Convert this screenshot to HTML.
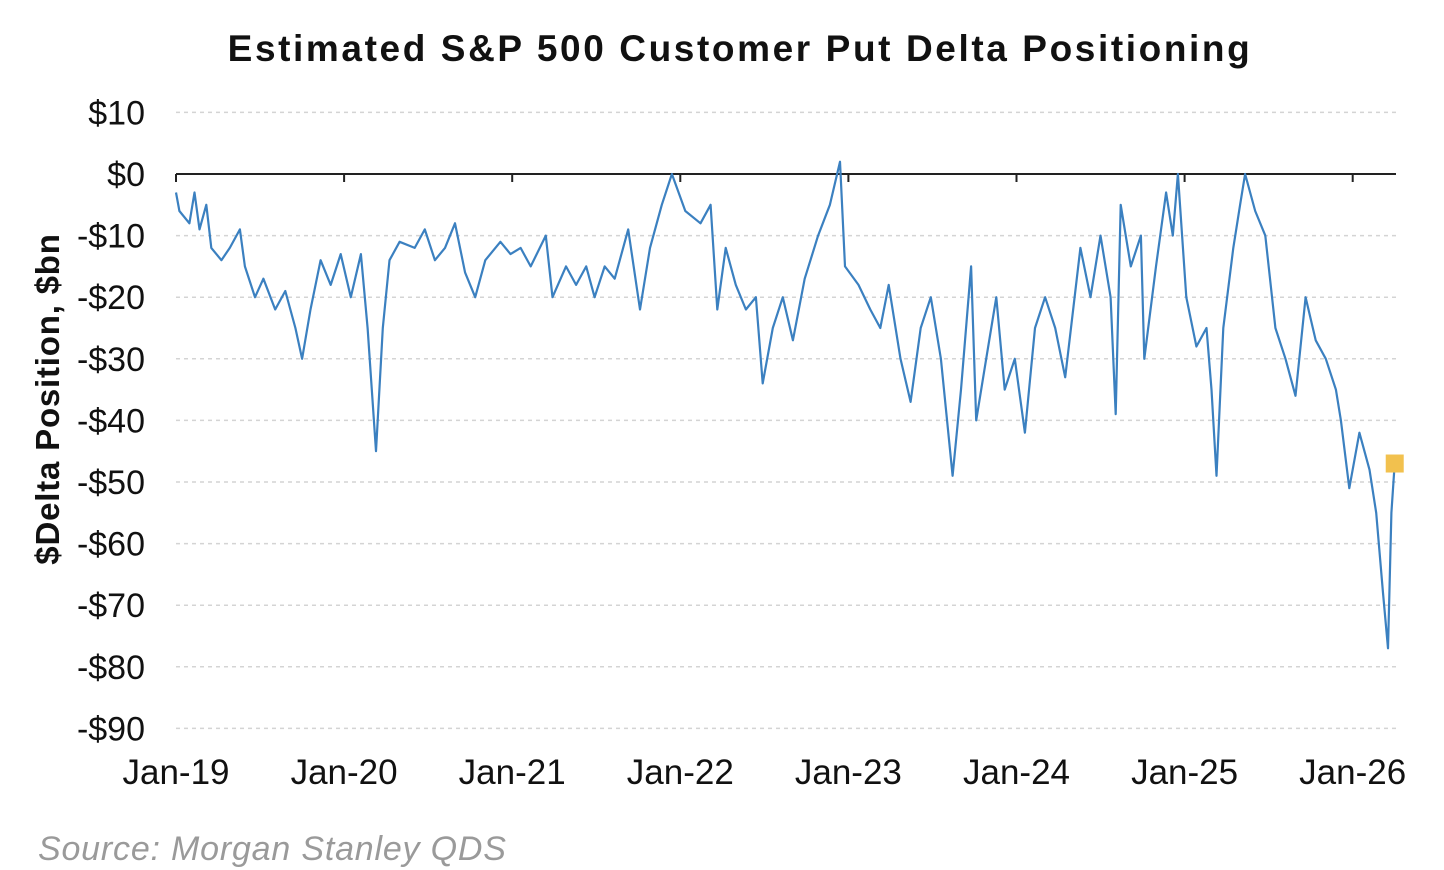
<!DOCTYPE html>
<html>
<head>
<meta charset="utf-8">
<style>
  html,body{margin:0;padding:0;background:#fff;}
  body{width:1444px;height:870px;overflow:hidden;font-family:"Liberation Sans",Arial,sans-serif;}
  svg{display:block;}
</style>
</head>
<body>
<svg id="chart" width="1444" height="870" viewBox="0 0 1444 870" xmlns="http://www.w3.org/2000/svg">
  <text x="740" y="61" text-anchor="middle" font-family="Liberation Sans, Arial, sans-serif" font-weight="bold" font-size="37" fill="#111" letter-spacing="2.6">Estimated S&amp;P 500 Customer Put Delta Positioning</text>
  <g id="grid"></g>
  <g id="yticks"></g>
  <g id="xticks"></g>
  <g id="series"></g>
  <text transform="translate(59,399) rotate(-90)" text-anchor="middle" font-family="Liberation Sans, Arial, sans-serif" font-weight="bold" font-size="33" fill="#111" letter-spacing="0.8">$Delta Position, $bn</text>
  <text x="38" y="860" font-family="Liberation Sans, Arial, sans-serif" font-style="italic" font-size="34" fill="#9a9a9a" letter-spacing="0.8">Source: Morgan Stanley QDS</text>
</svg>
<script>
const yTickValues = [10,0,-10,-20,-30,-40,-50,-60,-70,-80,-90];
const yTickLabels = ["$10","$0","-$10","-$20","-$30","-$40","-$50","-$60","-$70","-$80","-$90"];
const xTickYears = [2019,2020,2021,2022,2023,2024,2025,2026];
const xTickLabels = ["Jan-19","Jan-20","Jan-21","Jan-22","Jan-23","Jan-24","Jan-25","Jan-26"];
const dates = [2019.00,2019.02,2019.08,2019.11,2019.14,2019.18,2019.21,2019.27,2019.32,2019.38,2019.41,2019.47,2019.52,2019.59,2019.65,2019.71,2019.75,2019.80,2019.86,2019.92,2019.98,
2020.04,2020.10,2020.14,2020.19,2020.23,2020.27,2020.33,2020.42,2020.48,2020.54,2020.60,2020.66,2020.72,2020.78,2020.84,2020.93,2020.99,
2021.05,2021.11,2021.20,2021.24,2021.32,2021.38,2021.44,2021.49,2021.55,2021.61,2021.69,2021.76,2021.82,2021.89,2021.95,
2022.03,2022.12,2022.18,2022.22,2022.27,2022.33,2022.39,2022.45,2022.49,2022.55,2022.61,2022.67,2022.74,2022.82,2022.89,2022.95,2022.98,
2023.06,2023.13,2023.19,2023.24,2023.31,2023.37,2023.43,2023.49,2023.55,2023.62,2023.67,2023.73,2023.76,2023.82,2023.88,2023.93,2023.99,
2024.05,2024.11,2024.17,2024.23,2024.29,2024.38,2024.44,2024.50,2024.56,2024.59,2024.62,2024.68,2024.74,2024.76,2024.83,2024.89,2024.93,2024.96,
2025.01,2025.07,2025.13,2025.16,2025.19,2025.23,2025.29,2025.33,2025.36,2025.42,2025.48,2025.54,2025.60,2025.66,2025.72,2025.78,2025.84,2025.90,2025.93,2025.98,
2026.04,2026.10,2026.14,2026.18,2026.21,2026.23,2026.25];
const deltaValues = [-3,-6,-8,-3,-9,-5,-12,-14,-12,-9,-15,-20,-17,-22,-19,-25,-30,-22,-14,-18,-13,
-20,-13,-25,-45,-25,-14,-11,-12,-9,-14,-12,-8,-16,-20,-14,-11,-13,
-12,-15,-10,-20,-15,-18,-15,-20,-15,-17,-9,-22,-12,-5,0,
-6,-8,-5,-22,-12,-18,-22,-20,-34,-25,-20,-27,-17,-10,-5,2,-15,
-18,-22,-25,-18,-30,-37,-25,-20,-30,-49,-35,-15,-40,-30,-20,-35,-30,
-42,-25,-20,-25,-33,-12,-20,-10,-20,-39,-5,-15,-10,-30,-15,-3,-10,0,
-20,-28,-25,-35,-49,-25,-12,-5,0,-6,-10,-25,-30,-36,-20,-27,-30,-35,-40,-51,
-42,-48,-55,-68,-77,-55,-47];
const latestDate = 2026.25;
const latestValue = -47;

const NS = "http://www.w3.org/2000/svg";
const X0 = 176, PX_PER_YEAR = 168.1;
const Y0 = 174, PX_PER_UNIT = 6.16;
function xScale(yr){ return X0 + (yr - 2019) * PX_PER_YEAR; }
function yScale(v){ return Y0 - v * PX_PER_UNIT; }
function mk(tag, attrs){ const e = document.createElementNS(NS, tag); for (const k in attrs) e.setAttribute(k, attrs[k]); return e; }

const grid = document.getElementById('grid');
const yt = document.getElementById('yticks');
const xt = document.getElementById('xticks');
const ser = document.getElementById('series');
const plotL = 176, plotR = 1396;

yTickValues.forEach((v, i) => {
  const y = yScale(v);
  if (v !== 0) {
    const l = mk('line', {x1: plotL, x2: plotR, y1: y, y2: y, stroke: '#d4d4d4', 'stroke-width': 1.5, 'stroke-dasharray': '4,4'});
    
    
    grid.appendChild(l);
  }
  const t = mk('text', {x: 145, y: y + 12, 'text-anchor': 'end', 'font-size': 34, fill: '#111', 'font-family': 'Liberation Sans, Arial, sans-serif'});
  t.textContent = yTickLabels[i];
  
  
  yt.appendChild(t);
});

const zl = mk('line', {x1: plotL, x2: plotR, y1: yScale(0), y2: yScale(0), stroke: '#222', 'stroke-width': 2});


xt.appendChild(zl);

xTickYears.forEach((yr, i) => {
  const x = xScale(yr);
  const tk = mk('line', {x1: x, x2: x, y1: yScale(0), y2: yScale(0) + 8, stroke: '#222', 'stroke-width': 2});
  
  
  xt.appendChild(tk);
  const t = mk('text', {x: x, y: 784, 'text-anchor': 'middle', 'font-size': 35, fill: '#111', 'font-family': 'Liberation Sans, Arial, sans-serif'});
  t.textContent = xTickLabels[i];
  
  
  xt.appendChild(t);
});

const d = dates.map((yr, i) => (i ? 'L' : 'M') + xScale(yr).toFixed(1) + ',' + yScale(deltaValues[i]).toFixed(1)).join(' ');
const path = mk('path', {d: d, fill: 'none', stroke: '#3b80c0', 'stroke-width': 2.2, 'stroke-linejoin': 'round'});


ser.appendChild(path);

const sq = mk('rect', {x: xScale(latestDate) - 9, y: yScale(latestValue) - 9, width: 18, height: 18, fill: '#f2c14e'});


ser.appendChild(sq);
</script>
</body>
</html>
